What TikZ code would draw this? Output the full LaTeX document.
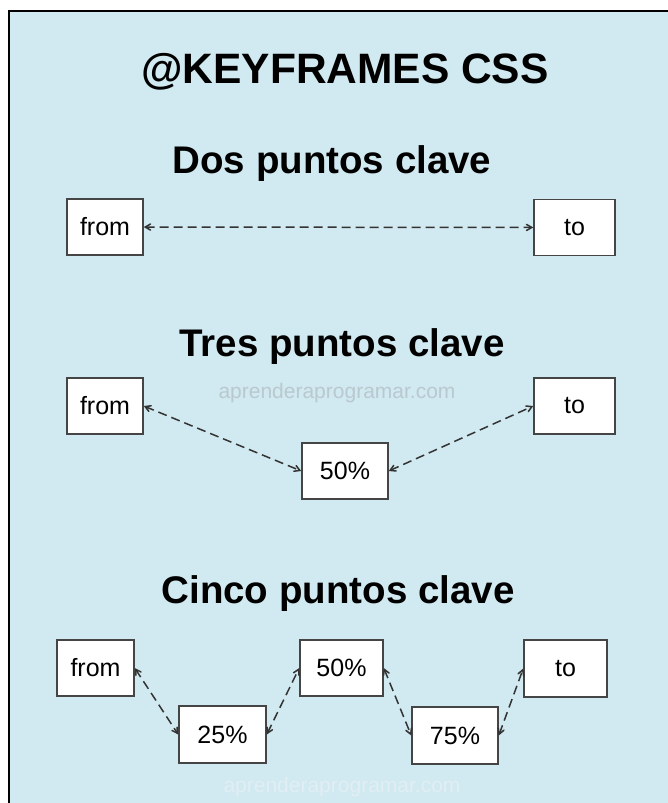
\documentclass[tikz,border=0pt]{standalone}
\usepackage{fontspec}
\setmainfont{Liberation Sans}
\usetikzlibrary{arrows}
\definecolor{fondo}{HTML}{D1E9F0}
\definecolor{borde}{HTML}{454545}
\definecolor{marca}{HTML}{B9C9CF}
\definecolor{marcaclara}{HTML}{E1EFF4}
\begin{document}
\begin{tikzpicture}[x=1pt,y=-1pt,
  caja/.style={draw=borde,fill=white,line width=1.5pt,inner sep=0pt,
    minimum height=56pt,font=\fontsize{25}{25}\selectfont},
  titulo/.style={anchor=base,font=\fontsize{38.5}{38.5}\selectfont\bfseries},
  flecha/.style={<->,>=angle 60,dashed,dash pattern=on 9pt off 5pt,
    line width=1.5pt,draw=black!80},
  marcaagua/.style={font=\fontsize{21}{21}\selectfont}]
\useasboundingbox (0,0) rectangle (668,803);
\fill[fondo] (8,10) rectangle (668,803);
\draw[line width=2pt,black] (8.5,803) -- (8.5,10.5) -- (668,10.5);
\node[titulo,font=\fontsize{42.5}{42.5}\selectfont\bfseries] (tit) at (345,83) {@KEYFRAMES CSS};
% dos puntos clave
\node[titulo] (dos) at (332,173) {Dos puntos clave};
\node[caja,minimum width=76pt] (from1) at (105,227) {from};
\node[caja,minimum width=81pt] (to1) at (574.5,227.5) {to};
\draw[flecha] (from1) -- (to1);
% tres puntos clave
\node[titulo] (tres) at (342,356) {Tres puntos clave};
\node[marcaagua,text=marca] (wm1) at (337,393) {aprenderaprogramar.com};
\node[caja,minimum width=76pt] (from2) at (105,406) {from};
\node[caja,minimum width=81pt] (to2) at (574.5,406) {to};
\node[caja,minimum width=86pt] (m2) at (345,471) {50\%};
\draw[flecha] (from2.east) -- (m2.west);
\draw[flecha] (m2.east) -- (to2.west);
% cinco puntos clave
\node[titulo] (cinco) at (338,603) {Cinco puntos clave};
\node[marcaagua,text=marcaclara] (wm2) at (342,787) {aprenderaprogramar.com};
\node[caja,minimum width=77pt] (from3) at (95.5,668) {from};
\node[caja,minimum width=87pt,minimum height=57pt] (p25) at (222.5,734.5) {25\%};
\node[caja,minimum width=83pt] (p50) at (341.5,668) {50\%};
\node[caja,minimum width=86pt,minimum height=57pt] (p75) at (455,735.5) {75\%};
\node[caja,minimum width=83pt,minimum height=57pt] (to3) at (565.5,668.5) {to};
\draw[flecha] (from3.east) -- (p25.west);
\draw[flecha] (p25.east) -- (p50.west);
\draw[flecha] (p50.east) -- (p75.west);
\draw[flecha] (p75.east) -- (to3.west);
\end{tikzpicture}
\end{document}
